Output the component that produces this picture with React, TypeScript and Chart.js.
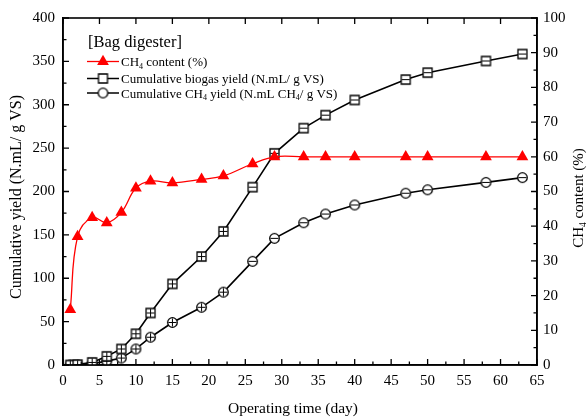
import React, { useEffect, useRef } from "react";
import { Chart, registerables } from "chart.js";

Chart.register(...registerables);

// ---------- data ----------
const days = [1, 2, 4, 6, 8, 10, 12, 15, 19, 22, 26, 29, 33, 36, 40, 47, 50, 58, 63];
const ch4Content = [16, 37, 42.5, 41, 44, 51, 53, 52.5, 53.5, 54.5, 58, 60, 60, 60, 60, 60, 60, 60, 60];
const biogasYield = [0, 0.5, 3, 10, 18.5, 36, 60, 93.5, 125, 154, 205, 244, 273, 288, 305.5, 329, 337, 350.5, 358.5];
const methaneYield = [0, 0, 1.5, 4.5, 8, 18.5, 32, 49, 66.5, 84, 119.5, 146, 164, 174, 184.5, 198, 202, 210.5, 216];

const xTickLabels = ["0", "5", "10", "15", "20", "25", "30", "35", "40", "45", "50", "55", "60", "65"];
const leftTickLabels = ["0", "50", "100", "150", "200", "250", "300", "350", "400"];
const rightTickLabels = ["0", "10", "20", "30", "40", "50", "60", "70", "80", "90", "100"];

const legendTitle = "[Bag digester]";
const xTitle = "Operating time (day)";
const leftTitle = "Cumulative yield (N.mL/ g VS)";

type Part = { t: string; sub?: boolean };
const rightTitle: Part[] = [{ t: "CH" }, { t: "4", sub: true }, { t: " content (%)" }];
const legendRows: Part[][] = [
  [{ t: "CH" }, { t: "4", sub: true }, { t: " content (%)" }],
  [{ t: "Cumulative biogas yield (N.mL/ g VS)" }],
  [{ t: "Cumulative CH" }, { t: "4", sub: true }, { t: " yield (N.mL CH" }, { t: "4", sub: true }, { t: "/ g VS)" }],
];

const FONT = '"Liberation Serif", "Times New Roman", serif';

function drawRich(ctx: CanvasRenderingContext2D, parts: Part[], x: number, y: number, size: number, align: "left" | "center") {
  const sub = size * 0.62;
  let total = 0;
  for (const p of parts) {
    ctx.font = `${p.sub ? sub : size}px ${FONT}`;
    total += ctx.measureText(p.t).width;
  }
  let cx = align === "center" ? x - total / 2 : x;
  ctx.textAlign = "left";
  ctx.textBaseline = "alphabetic";
  for (const p of parts) {
    ctx.font = `${p.sub ? sub : size}px ${FONT}`;
    ctx.fillText(p.t, cx, p.sub ? y + size * 0.22 : y);
    cx += ctx.measureText(p.t).width;
  }
}

function makeMarker(shape: "square" | "circle", inner: "plus" | "bar" | "none") {
  const s = 13;
  const c = document.createElement("canvas");
  c.width = s;
  c.height = s;
  const g = c.getContext("2d")!;
  const m = s / 2;
  g.fillStyle = "#fff";
  g.strokeStyle = "#000";
  g.lineWidth = 1.3;
  g.beginPath();
  if (shape === "square") g.rect(2, 2, 9, 9);
  else g.arc(m, m, 4.8, 0, Math.PI * 2);
  g.fill();
  g.stroke();
  if (inner !== "none") {
    g.lineWidth = 1;
    g.beginPath();
    g.moveTo(2.5, m);
    g.lineTo(10.5, m);
    if (inner === "plus") {
      g.moveTo(m, 2.5);
      g.lineTo(m, 10.5);
    }
    g.stroke();
  }
  return c;
}

export default function App() {
  const ref = useRef<HTMLCanvasElement>(null);

  useEffect(() => {
    const canvas = ref.current;
    if (!canvas) return;
    const sqPlus = makeMarker("square", "plus");
    const sqBar = makeMarker("square", "bar");
    const sqPlain = makeMarker("square", "none");
    const ciPlus = makeMarker("circle", "plus");
    const ciBar = makeMarker("circle", "bar");
    const ciPlain = makeMarker("circle", "none");

    const tickFont = { family: FONT, size: 15 };

    const decor = {
      id: "decor",
      afterDraw(chart: any) {
        const ctx: CanvasRenderingContext2D = chart.ctx;
        const a = chart.chartArea;
        const sx = chart.scales.x;
        const sy = chart.scales.y;
        const sy1 = chart.scales.y1;
        ctx.save();
        ctx.strokeStyle = "#000";
        ctx.lineWidth = 1.6;
        ctx.strokeRect(a.left, a.top, a.right - a.left, a.bottom - a.top);
        ctx.lineWidth = 1.3;
        ctx.beginPath();
        for (let v = 0; v <= 65; v += 2.5) {
          const px = sx.getPixelForValue(v);
          const major = v % 5 === 0;
          const len = major ? 6 : 3.5;
          ctx.moveTo(px, a.bottom);
          ctx.lineTo(px, a.bottom - len);
          if (major) {
            ctx.moveTo(px, a.top);
            ctx.lineTo(px, a.top + len);
          }
        }
        for (let v = 0; v <= 400; v += 25) {
          const py = sy.getPixelForValue(v);
          const len = v % 50 === 0 ? 6 : 3.5;
          ctx.moveTo(a.left, py);
          ctx.lineTo(a.left + len, py);
        }
        for (let v = 0; v <= 100; v += 5) {
          const py = sy1.getPixelForValue(v);
          const len = v % 10 === 0 ? 6 : 3.5;
          ctx.moveTo(a.right, py);
          ctx.lineTo(a.right - len, py);
        }
        ctx.stroke();

        ctx.fillStyle = "#000";
        // x title
        drawRich(ctx, [{ t: xTitle }], 293, 413, 15.5, "center");
        // left title
        ctx.save();
        ctx.translate(21, 197);
        ctx.rotate(-Math.PI / 2);
        drawRich(ctx, [{ t: leftTitle }], 0, 0, 16, "center");
        ctx.restore();
        // right title
        ctx.save();
        ctx.translate(583, 198);
        ctx.rotate(-Math.PI / 2);
        drawRich(ctx, rightTitle, 0, 0, 15, "center");
        ctx.restore();

        // legend
        drawRich(ctx, [{ t: legendTitle }], 88, 47, 16.5, "left");
        const rowsY = [61.5, 78.5, 93];
        const baseY = [66, 83, 97.5];
        const colors = ["#ff0000", "#000", "#000"];
        for (let i = 0; i < 3; i++) {
          ctx.strokeStyle = colors[i];
          ctx.lineWidth = i === 0 ? 1.3 : 1.5;
          ctx.beginPath();
          ctx.moveTo(87, rowsY[i]);
          ctx.lineTo(119, rowsY[i]);
          ctx.stroke();
          if (i === 0) {
            ctx.fillStyle = "#ff0000";
            const r = 6.8;
            ctx.beginPath();
            ctx.moveTo(103, rowsY[i] - r);
            ctx.lineTo(103 + r * 0.866, rowsY[i] + r * 0.5);
            ctx.lineTo(103 - r * 0.866, rowsY[i] + r * 0.5);
            ctx.closePath();
            ctx.fill();
          } else {
            const img = i === 1 ? sqPlain : ciPlain;
            ctx.drawImage(img, 103 - img.width / 2, rowsY[i] - img.height / 2);
          }
          ctx.fillStyle = "#000";
          drawRich(ctx, legendRows[i], 121, baseY[i], 13, "left");
        }
        ctx.restore();
      },
    };

    const chart = new Chart(canvas, {
      type: "line",
      data: {
        datasets: [
          {
            label: "CH4 content (%)",
            data: days.map((d, i) => ({ x: d, y: ch4Content[i] })),
            yAxisID: "y1",
            borderColor: "#ff0000",
            backgroundColor: "#ff0000",
            borderWidth: 1.3,
            tension: 0.4,
            pointStyle: "triangle",
            pointRadius: 6.8,
            pointBorderWidth: 0,
            pointBackgroundColor: "#ff0000",
          },
          {
            label: "Cumulative biogas yield",
            data: days.map((d, i) => ({ x: d, y: biogasYield[i] })),
            yAxisID: "y",
            borderColor: "#000",
            borderWidth: 1.6,
            tension: 0,
            pointStyle: (c: any) => (days[c.dataIndex] < 24 ? sqPlus : sqBar),
            pointRadius: 6,
          },
          {
            label: "Cumulative CH4 yield",
            data: days.map((d, i) => ({ x: d, y: methaneYield[i] })),
            yAxisID: "y",
            borderColor: "#000",
            borderWidth: 1.6,
            tension: 0,
            pointStyle: (c: any) => (days[c.dataIndex] < 24 ? ciPlus : ciBar),
            pointRadius: 6,
          },
        ],
      },
      options: {
        animation: false,
        responsive: false,
        maintainAspectRatio: false,
        layout: { padding: { top: 18, left: 0, right: 0, bottom: 0 } },
        plugins: { legend: { display: false }, tooltip: { enabled: false } },
        scales: {
          x: {
            type: "linear",
            min: 0,
            max: 65,
            ticks: {
              stepSize: 5,
              font: tickFont,
              color: "#000",
              padding: 7,
              maxRotation: 0,
              autoSkip: false,
              callback: (_v: any, i: number) => xTickLabels[i],
            },
            grid: { display: false, drawTicks: false },
            border: { display: true, color: "#000", width: 1.6 },
            afterFit: (s: any) => {
              s.height = 54;
            },
          },
          y: {
            position: "left",
            min: 0,
            max: 400,
            ticks: {
              stepSize: 50,
              font: tickFont,
              color: "#000",
              padding: 8,
              callback: (_v: any, i: number) => leftTickLabels[i],
            },
            grid: { display: false, drawTicks: false },
            border: { display: true, color: "#000", width: 1.6 },
            afterFit: (s: any) => {
              s.width = 63;
            },
          },
          y1: {
            position: "right",
            min: 0,
            max: 100,
            ticks: {
              stepSize: 10,
              font: tickFont,
              color: "#000",
              padding: 6,
              callback: (_v: any, i: number) => rightTickLabels[i],
            },
            grid: { display: false, drawTicks: false },
            border: { display: true, color: "#000", width: 1.6 },
            afterFit: (s: any) => {
              s.width = 51;
            },
          },
        },
      },
      plugins: [decor],
    } as any);

    return () => chart.destroy();
  }, []);

  return (
    <div style={{ position: "fixed", left: 0, top: 0, width: 588, height: 419, background: "#fff" }}>
      <canvas ref={ref} width={588} height={419} style={{ width: 588, height: 419, display: "block" }} />
    </div>
  );
}
